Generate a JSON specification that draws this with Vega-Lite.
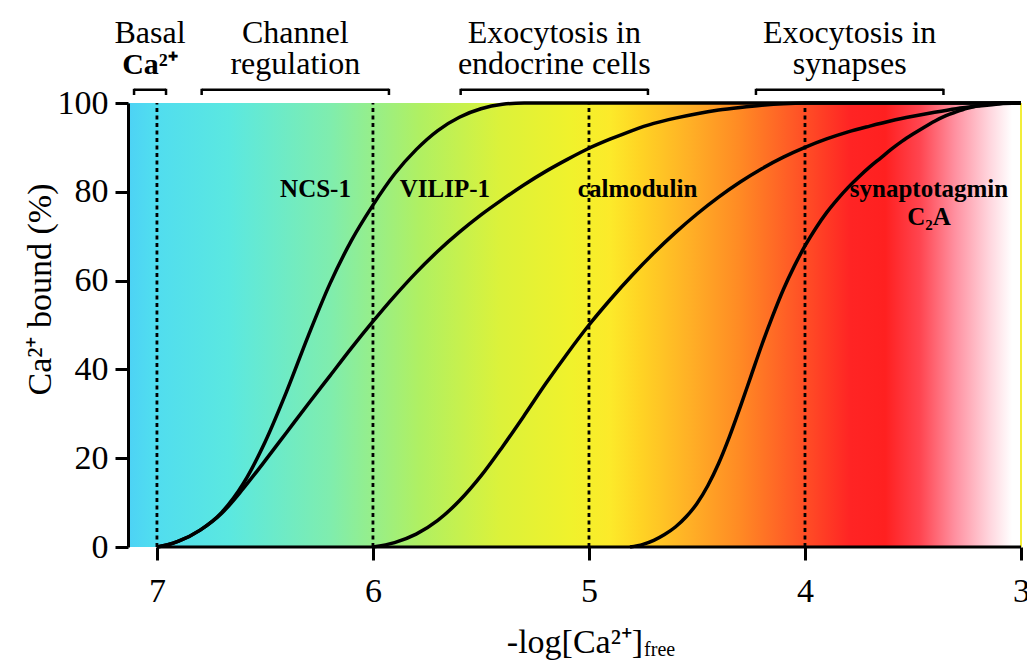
{
  "$schema": "https://vega.github.io/schema/vega-lite/v6.json",
  "width": 893,
  "height": 444,
  "autosize": {"type": "none"},
  "padding": {"left": 128, "top": 103, "right": 6, "bottom": 113},
  "background": "white",
  "config": {
    "font": "Liberation Serif",
    "view": {"stroke": null},
    "axis": {"labelFont": "Liberation Serif", "titleFont": "Liberation Serif"},
    "text": {"font": "Liberation Serif", "color": "black"}
  },
  "datasets": {
    "band": [{"from": 7.134, "to": 3}],
    "guides": [{"pCa": 7}, {"pCa": 6}, {"pCa": 5}, {"pCa": 4}],
    "curves": [
      {"protein": "NCS-1", "pCa": 7.0, "bound": 0},
      {"protein": "NCS-1", "pCa": 6.95, "bound": 0.5},
      {"protein": "NCS-1", "pCa": 6.9, "bound": 1.3},
      {"protein": "NCS-1", "pCa": 6.8, "bound": 3.8},
      {"protein": "NCS-1", "pCa": 6.7, "bound": 7.8},
      {"protein": "NCS-1", "pCa": 6.6, "bound": 14.3},
      {"protein": "NCS-1", "pCa": 6.5, "bound": 23.6},
      {"protein": "NCS-1", "pCa": 6.4, "bound": 35.0},
      {"protein": "NCS-1", "pCa": 6.3, "bound": 47.5},
      {"protein": "NCS-1", "pCa": 6.2, "bound": 59.2},
      {"protein": "NCS-1", "pCa": 6.1, "bound": 69.0},
      {"protein": "NCS-1", "pCa": 6.0, "bound": 77.0},
      {"protein": "NCS-1", "pCa": 5.9, "bound": 84.0},
      {"protein": "NCS-1", "pCa": 5.8, "bound": 89.5},
      {"protein": "NCS-1", "pCa": 5.7, "bound": 93.8},
      {"protein": "NCS-1", "pCa": 5.6, "bound": 96.8},
      {"protein": "NCS-1", "pCa": 5.5, "bound": 98.7},
      {"protein": "NCS-1", "pCa": 5.4, "bound": 99.7},
      {"protein": "NCS-1", "pCa": 5.3, "bound": 100},
      {"protein": "NCS-1", "pCa": 3.0, "bound": 100},
      {"protein": "VILIP-1", "pCa": 7.0, "bound": 0},
      {"protein": "VILIP-1", "pCa": 6.95, "bound": 0.5},
      {"protein": "VILIP-1", "pCa": 6.9, "bound": 1.3},
      {"protein": "VILIP-1", "pCa": 6.8, "bound": 3.8},
      {"protein": "VILIP-1", "pCa": 6.7, "bound": 7.6},
      {"protein": "VILIP-1", "pCa": 6.6, "bound": 13.2},
      {"protein": "VILIP-1", "pCa": 6.5, "bound": 19.4},
      {"protein": "VILIP-1", "pCa": 6.4, "bound": 25.8},
      {"protein": "VILIP-1", "pCa": 6.3, "bound": 32.2},
      {"protein": "VILIP-1", "pCa": 6.2, "bound": 38.5},
      {"protein": "VILIP-1", "pCa": 6.1, "bound": 44.8},
      {"protein": "VILIP-1", "pCa": 6.0, "bound": 50.8},
      {"protein": "VILIP-1", "pCa": 5.9, "bound": 56.5},
      {"protein": "VILIP-1", "pCa": 5.8, "bound": 61.8},
      {"protein": "VILIP-1", "pCa": 5.7, "bound": 66.6},
      {"protein": "VILIP-1", "pCa": 5.6, "bound": 70.9},
      {"protein": "VILIP-1", "pCa": 5.5, "bound": 74.8},
      {"protein": "VILIP-1", "pCa": 5.4, "bound": 78.3},
      {"protein": "VILIP-1", "pCa": 5.3, "bound": 81.6},
      {"protein": "VILIP-1", "pCa": 5.2, "bound": 84.6},
      {"protein": "VILIP-1", "pCa": 5.1, "bound": 87.3},
      {"protein": "VILIP-1", "pCa": 5.0, "bound": 89.8},
      {"protein": "VILIP-1", "pCa": 4.9, "bound": 91.9},
      {"protein": "VILIP-1", "pCa": 4.8, "bound": 93.8},
      {"protein": "VILIP-1", "pCa": 4.7, "bound": 95.4},
      {"protein": "VILIP-1", "pCa": 4.6, "bound": 96.6},
      {"protein": "VILIP-1", "pCa": 4.5, "bound": 97.6},
      {"protein": "VILIP-1", "pCa": 4.4, "bound": 98.4},
      {"protein": "VILIP-1", "pCa": 4.3, "bound": 99.0},
      {"protein": "VILIP-1", "pCa": 4.2, "bound": 99.5},
      {"protein": "VILIP-1", "pCa": 4.1, "bound": 99.85},
      {"protein": "VILIP-1", "pCa": 4.0, "bound": 100},
      {"protein": "VILIP-1", "pCa": 3.0, "bound": 100},
      {"protein": "calmodulin", "pCa": 6.0, "bound": 0},
      {"protein": "calmodulin", "pCa": 5.9, "bound": 1.0},
      {"protein": "calmodulin", "pCa": 5.8, "bound": 2.9},
      {"protein": "calmodulin", "pCa": 5.7, "bound": 6.0},
      {"protein": "calmodulin", "pCa": 5.6, "bound": 10.4},
      {"protein": "calmodulin", "pCa": 5.5, "bound": 16.0},
      {"protein": "calmodulin", "pCa": 5.4, "bound": 22.6},
      {"protein": "calmodulin", "pCa": 5.3, "bound": 29.6},
      {"protein": "calmodulin", "pCa": 5.2, "bound": 36.8},
      {"protein": "calmodulin", "pCa": 5.1, "bound": 43.6},
      {"protein": "calmodulin", "pCa": 5.0, "bound": 50.0},
      {"protein": "calmodulin", "pCa": 4.9, "bound": 55.8},
      {"protein": "calmodulin", "pCa": 4.8, "bound": 61.2},
      {"protein": "calmodulin", "pCa": 4.7, "bound": 66.2},
      {"protein": "calmodulin", "pCa": 4.6, "bound": 70.8},
      {"protein": "calmodulin", "pCa": 4.5, "bound": 75.0},
      {"protein": "calmodulin", "pCa": 4.4, "bound": 78.8},
      {"protein": "calmodulin", "pCa": 4.3, "bound": 82.2},
      {"protein": "calmodulin", "pCa": 4.2, "bound": 85.2},
      {"protein": "calmodulin", "pCa": 4.1, "bound": 87.8},
      {"protein": "calmodulin", "pCa": 4.0, "bound": 90.0},
      {"protein": "calmodulin", "pCa": 3.9, "bound": 91.9},
      {"protein": "calmodulin", "pCa": 3.8, "bound": 93.5},
      {"protein": "calmodulin", "pCa": 3.7, "bound": 94.8},
      {"protein": "calmodulin", "pCa": 3.6, "bound": 96.0},
      {"protein": "calmodulin", "pCa": 3.5, "bound": 97.0},
      {"protein": "calmodulin", "pCa": 3.4, "bound": 97.9},
      {"protein": "calmodulin", "pCa": 3.3, "bound": 98.7},
      {"protein": "calmodulin", "pCa": 3.2, "bound": 99.3},
      {"protein": "calmodulin", "pCa": 3.1, "bound": 99.8},
      {"protein": "calmodulin", "pCa": 3.0, "bound": 100},
      {"protein": "synaptotagmin C2A", "pCa": 4.81, "bound": 0},
      {"protein": "synaptotagmin C2A", "pCa": 4.75, "bound": 0.6},
      {"protein": "synaptotagmin C2A", "pCa": 4.7, "bound": 1.5},
      {"protein": "synaptotagmin C2A", "pCa": 4.65, "bound": 2.8},
      {"protein": "synaptotagmin C2A", "pCa": 4.6, "bound": 4.5},
      {"protein": "synaptotagmin C2A", "pCa": 4.55, "bound": 6.8},
      {"protein": "synaptotagmin C2A", "pCa": 4.5, "bound": 9.8},
      {"protein": "synaptotagmin C2A", "pCa": 4.45, "bound": 13.8},
      {"protein": "synaptotagmin C2A", "pCa": 4.4, "bound": 18.8},
      {"protein": "synaptotagmin C2A", "pCa": 4.35, "bound": 24.8},
      {"protein": "synaptotagmin C2A", "pCa": 4.3, "bound": 31.5},
      {"protein": "synaptotagmin C2A", "pCa": 4.25, "bound": 38.5},
      {"protein": "synaptotagmin C2A", "pCa": 4.2, "bound": 45.5},
      {"protein": "synaptotagmin C2A", "pCa": 4.15, "bound": 52.0},
      {"protein": "synaptotagmin C2A", "pCa": 4.1, "bound": 58.0},
      {"protein": "synaptotagmin C2A", "pCa": 4.05, "bound": 63.2},
      {"protein": "synaptotagmin C2A", "pCa": 4.0, "bound": 67.8},
      {"protein": "synaptotagmin C2A", "pCa": 3.95, "bound": 71.8},
      {"protein": "synaptotagmin C2A", "pCa": 3.9, "bound": 75.3},
      {"protein": "synaptotagmin C2A", "pCa": 3.85, "bound": 78.3},
      {"protein": "synaptotagmin C2A", "pCa": 3.8, "bound": 81.0},
      {"protein": "synaptotagmin C2A", "pCa": 3.75, "bound": 83.4},
      {"protein": "synaptotagmin C2A", "pCa": 3.7, "bound": 85.6},
      {"protein": "synaptotagmin C2A", "pCa": 3.65, "bound": 87.6},
      {"protein": "synaptotagmin C2A", "pCa": 3.6, "bound": 89.6},
      {"protein": "synaptotagmin C2A", "pCa": 3.55, "bound": 91.4},
      {"protein": "synaptotagmin C2A", "pCa": 3.5, "bound": 93.0},
      {"protein": "synaptotagmin C2A", "pCa": 3.45, "bound": 94.5},
      {"protein": "synaptotagmin C2A", "pCa": 3.4, "bound": 95.9},
      {"protein": "synaptotagmin C2A", "pCa": 3.35, "bound": 97.1},
      {"protein": "synaptotagmin C2A", "pCa": 3.3, "bound": 98.0},
      {"protein": "synaptotagmin C2A", "pCa": 3.25, "bound": 98.8},
      {"protein": "synaptotagmin C2A", "pCa": 3.2, "bound": 99.4},
      {"protein": "synaptotagmin C2A", "pCa": 3.15, "bound": 99.8},
      {"protein": "synaptotagmin C2A", "pCa": 3.1, "bound": 100},
      {"protein": "synaptotagmin C2A", "pCa": 3.0, "bound": 100}
    ],
    "regions": [
      {"line1": "Basal", "line2": "Ca²⁺", "from": 7.106, "to": 6.958},
      {"line1": "Channel", "line2": "regulation", "from": 6.793, "to": 5.926},
      {"line1": "Exocytosis in", "line2": "endocrine cells", "from": 5.594, "to": 4.727},
      {"line1": "Exocytosis in", "line2": "synapses", "from": 4.227, "to": 3.359}
    ],
    "labels": [
      {"label": "NCS-1", "pCa": 6.266, "bound": 78.8},
      {"label": "VILIP-1", "pCa": 5.667, "bound": 78.8},
      {"label": "calmodulin", "pCa": 4.775, "bound": 78.8},
      {"label": "synaptotagmin", "pCa": 3.426, "bound": 78.8},
      {"label": "C₂A", "pCa": 3.426, "bound": 72.5}
    ]
  },
  "layer": [
    {
      "data": {"name": "band"},
      "mark": {
        "type": "rect",
        "color": {
          "gradient": "linear",
          "x1": 0, "y1": 0, "x2": 1, "y2": 0,
          "stops": [
            {"offset": 0.0, "color": "#4DD2F5"},
            {"offset": 0.025, "color": "#50DCF0"},
            {"offset": 0.114, "color": "#5BE8E0"},
            {"offset": 0.226, "color": "#7FEDAE"},
            {"offset": 0.327, "color": "#B0F062"},
            {"offset": 0.417, "color": "#DCF23A"},
            {"offset": 0.495, "color": "#F0F22C"},
            {"offset": 0.54, "color": "#FCEA2A"},
            {"offset": 0.573, "color": "#FFD424"},
            {"offset": 0.629, "color": "#FFB026"},
            {"offset": 0.685, "color": "#FF8A24"},
            {"offset": 0.741, "color": "#FF5C26"},
            {"offset": 0.809, "color": "#FF2424"},
            {"offset": 0.848, "color": "#FF2020"},
            {"offset": 0.887, "color": "#FF4550"},
            {"offset": 0.926, "color": "#FF90A0"},
            {"offset": 0.965, "color": "#FFD6DE"},
            {"offset": 0.99, "color": "#FFFFFF"},
            {"offset": 1.0, "color": "#FFFFFF"}
          ]
        }
      },
      "encoding": {
        "x": {
          "field": "from",
          "type": "quantitative",
          "scale": {"domain": [3, 7.134], "reverse": true, "nice": false, "zero": false},
          "axis": {
            "values": [7, 6, 5, 4, 3],
            "format": "d",
            "domain": false,
            "grid": false,
            "ticks": true,
            "tickSize": 13,
            "tickWidth": 3,
            "tickColor": "black",
            "labelFont": "Liberation Serif",
            "labelFontSize": 34,
            "labelColor": "black",
            "labelPadding": 14,
            "labelFlush": false,
            "labelOverlap": false,
            "labelBound": false,
            "title": "-log[Ca²⁺]",
            "titleFont": "Liberation Serif",
            "titleFontSize": 34,
            "titleFontWeight": "normal",
            "titleColor": "black",
            "titleY": 105,
            "titleBaseline": "alphabetic",
            "zindex": 1
          }
        },
        "x2": {"field": "to"},
        "y": {
          "datum": 0,
          "type": "quantitative",
          "scale": {"domain": [0, 100], "nice": false, "zero": false},
          "axis": {
            "values": [0, 20, 40, 60, 80, 100],
            "domain": true,
            "domainWidth": 3,
            "domainColor": "black",
            "grid": false,
            "tickSize": 13,
            "tickWidth": 3,
            "tickColor": "black",
            "labelFont": "Liberation Serif",
            "labelFontSize": 34,
            "labelColor": "black",
            "labelPadding": 7,
            "labelFlush": false,
            "labelOverlap": false,
            "title": "Ca²⁺ bound (%)",
            "titleFont": "Liberation Serif",
            "titleFontSize": 34,
            "titleFontWeight": "normal",
            "titleColor": "black",
            "titleX": -78,
            "titleY": 186,
            "titleBaseline": "alphabetic",
            "zindex": 1
          }
        },
        "y2": {"datum": 100}
      }
    },
    {
      "data": {"values": [{}]},
      "mark": {"type": "rule", "color": "#F2EE3A", "strokeWidth": 2},
      "encoding": {
        "x": {"datum": 3, "type": "quantitative"},
        "y": {"datum": 0, "type": "quantitative"},
        "y2": {"datum": 100}
      }
    },
    {
      "data": {"name": "guides"},
      "mark": {"type": "rule", "color": "black", "strokeWidth": 2.8, "strokeDash": [4, 3.5]},
      "encoding": {
        "x": {"field": "pCa", "type": "quantitative"},
        "y": {"datum": 0, "type": "quantitative"},
        "y2": {"datum": 100}
      }
    },
    {
      "data": {"name": "labels"},
      "mark": {"type": "text", "fontSize": 25, "fontWeight": "bold", "align": "center", "baseline": "alphabetic"},
      "encoding": {
        "x": {"field": "pCa", "type": "quantitative"},
        "y": {"field": "bound", "type": "quantitative"},
        "text": {"field": "label"}
      }
    },
    {
      "data": {"name": "curves"},
      "mark": {"type": "line", "interpolate": "monotone", "color": "black", "strokeWidth": 3.5},
      "encoding": {
        "x": {"field": "pCa", "type": "quantitative"},
        "y": {"field": "bound", "type": "quantitative"},
        "detail": {"field": "protein"},
        "order": {"field": "pCa", "sort": "descending"}
      }
    },
    {
      "data": {"values": [{}]},
      "mark": {"type": "rule", "color": "black", "strokeWidth": 3},
      "encoding": {
        "x": {"datum": 7, "type": "quantitative"},
        "x2": {"datum": 3},
        "y": {"datum": 0, "type": "quantitative"}
      }
    },
    {
      "data": {"name": "regions"},
      "mark": {"type": "rule", "color": "black", "strokeWidth": 2.5},
      "encoding": {
        "x": {"field": "from", "type": "quantitative"},
        "x2": {"field": "to"},
        "y": {"datum": 103, "type": "quantitative"}
      }
    },
    {
      "data": {"name": "regions"},
      "mark": {"type": "rule", "color": "black", "strokeWidth": 2.5},
      "encoding": {
        "x": {"field": "from", "type": "quantitative"},
        "y": {"datum": 103.2, "type": "quantitative"},
        "y2": {"datum": 101.8}
      }
    },
    {
      "data": {"name": "regions"},
      "mark": {"type": "rule", "color": "black", "strokeWidth": 2.5},
      "encoding": {
        "x": {"field": "to", "type": "quantitative"},
        "y": {"datum": 103.2, "type": "quantitative"},
        "y2": {"datum": 101.8}
      }
    },
    {
      "data": {"name": "regions"},
      "transform": [{"calculate": "(datum.from + datum.to) / 2", "as": "mid"}],
      "mark": {"type": "text", "fontSize": 32, "align": "center", "baseline": "alphabetic"},
      "encoding": {
        "x": {"field": "mid", "type": "quantitative"},
        "y": {"datum": 113.5, "type": "quantitative"},
        "text": {"field": "line1"}
      }
    },
    {
      "data": {"name": "regions"},
      "transform": [
        {"filter": "datum.line1 !== 'Basal'"},
        {"calculate": "(datum.from + datum.to) / 2", "as": "mid"}
      ],
      "mark": {"type": "text", "fontSize": 32, "align": "center", "baseline": "alphabetic"},
      "encoding": {
        "x": {"field": "mid", "type": "quantitative"},
        "y": {"datum": 106.5, "type": "quantitative"},
        "text": {"field": "line2"}
      }
    },
    {
      "data": {"name": "regions"},
      "transform": [
        {"filter": "datum.line1 === 'Basal'"},
        {"calculate": "(datum.from + datum.to) / 2", "as": "mid"}
      ],
      "mark": {"type": "text", "fontSize": 30, "fontWeight": "bold", "align": "center", "baseline": "alphabetic"},
      "encoding": {
        "x": {"field": "mid", "type": "quantitative"},
        "y": {"datum": 106.5, "type": "quantitative"},
        "text": {"field": "line2"}
      }
    },
    {
      "data": {"values": [{"sub": "free"}]},
      "mark": {"type": "text", "fontSize": 20, "align": "left", "baseline": "alphabetic"},
      "encoding": {
        "x": {"datum": 4.745, "type": "quantitative"},
        "y": {"datum": -24.5, "type": "quantitative"},
        "text": {"field": "sub"}
      }
    }
  ]
}
